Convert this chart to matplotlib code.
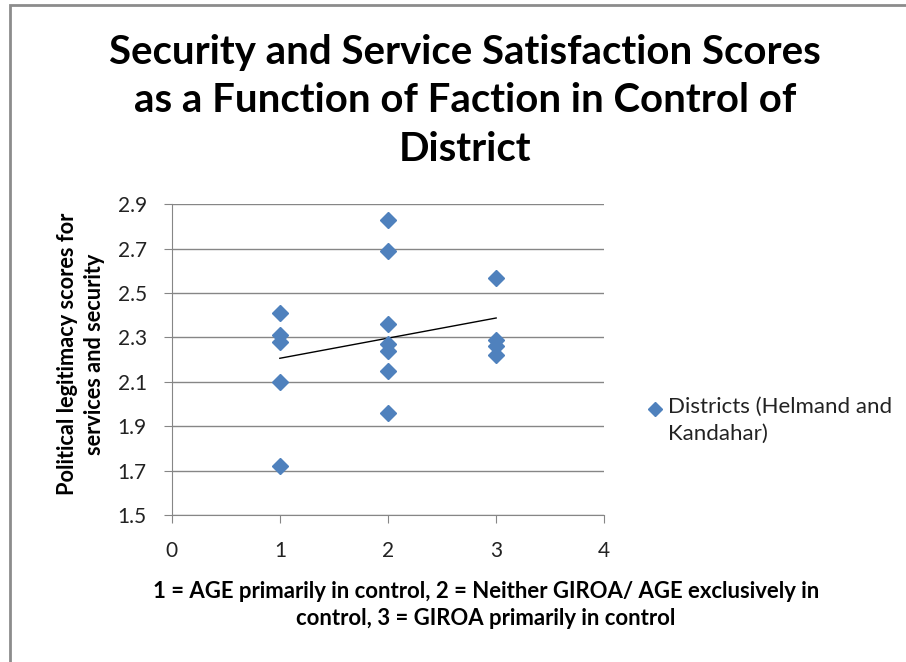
import numpy as np
import matplotlib.pyplot as plt
from matplotlib.patches import Rectangle
from matplotlib.lines import Line2D

# faction in control (x) and legitimacy score (y)
faction = [1, 1, 1, 1, 1,
           2, 2, 2, 2, 2, 2, 2,
           3, 3, 3, 3]
scores = [2.41, 2.31, 2.28, 2.10, 1.72,
          2.83, 2.69, 2.36, 2.27, 2.24, 2.15, 1.96,
          2.57, 2.29, 2.26, 2.22]
x_ticks = [0, 1, 2, 3, 4]
y_ticks = [1.5, 1.7, 1.9, 2.1, 2.3, 2.5, 2.7, 2.9]

title = "Security and Service Satisfaction Scores\nas a Function of Faction in Control of\nDistrict"
xlabel = "1 = AGE primarily in control, 2 = Neither GIROA/ AGE exclusively in\ncontrol, 3 = GIROA primarily in control"
ylabel = "Political legitimacy scores for\nservices and security"
series_name = "Districts (Helmand and\nKandahar)"

plt.rcParams['font.family'] = ['Lato', 'DejaVu Sans']

blue = '#4F81BD'
grid = '#868686'

fig = plt.figure(figsize=(9.06, 6.62), dpi=100)
# outer chart border (cut off at right and bottom)
fig.patches.append(Rectangle((10 / 906, -0.1), 1.2, (662 - 4.5) / 662 + 0.1,
                             transform=fig.transFigure, fill=False,
                             edgecolor='#8c8c8c', linewidth=2))

ax = fig.add_axes([171.7 / 906, (662 - 515) / 662, 432.6 / 906, 310.7 / 662])

ax.plot(faction, scores, linestyle='none', marker='D', markersize=8,
        color=blue, zorder=3)

# linear trendline over data range
k, b = np.polyfit(faction, scores, 1)
xl = np.array([min(faction), max(faction)])
ax.plot(xl, k * xl + b, color='black', linewidth=1, zorder=2)

ax.set_xlim(0, 4)
ax.set_ylim(1.5, 2.9)
ax.set_xticks(x_ticks)
ax.set_yticks(y_ticks)
ax.set_yticklabels([f"{v:.1f}" for v in y_ticks])
ax.yaxis.grid(True, color=grid, linewidth=1)
ax.set_axisbelow(True)
for s in ['top', 'right']:
    ax.spines[s].set_visible(False)
for s in ['left', 'bottom']:
    ax.spines[s].set_color(grid)
ax.tick_params(axis='both', direction='out', length=6, color=grid,
               labelsize=15, labelcolor='#222222')
ax.tick_params(axis='y', pad=12)
ax.tick_params(axis='x', pad=13)

fig.text(465 / 906, 1 - 101 / 662, title, ha='center', va='center',
         fontsize=28.9, fontweight='bold', linespacing=1.38)
fig.text(486 / 906, 1 - 605 / 662, xlabel, ha='center', va='center',
         fontsize=15.9, fontweight='bold', linespacing=1.3)
fig.text(81 / 906, 1 - 354 / 662, ylabel, ha='center', va='center',
         rotation=90, fontsize=15.7, fontweight='bold', linespacing=1.3)

# legend entry: marker beside first line of label
fig.lines.append(Line2D([655 / 906], [1 - 409 / 662], transform=fig.transFigure,
                        marker='D', markersize=7.5, color=blue, linestyle='none'))
fig.text(668 / 906, 1 - 397 / 662, series_name, ha='left', va='top',
         fontsize=16, linespacing=1.45, color='#222222')

fig.savefig('out.png', dpi=100)
